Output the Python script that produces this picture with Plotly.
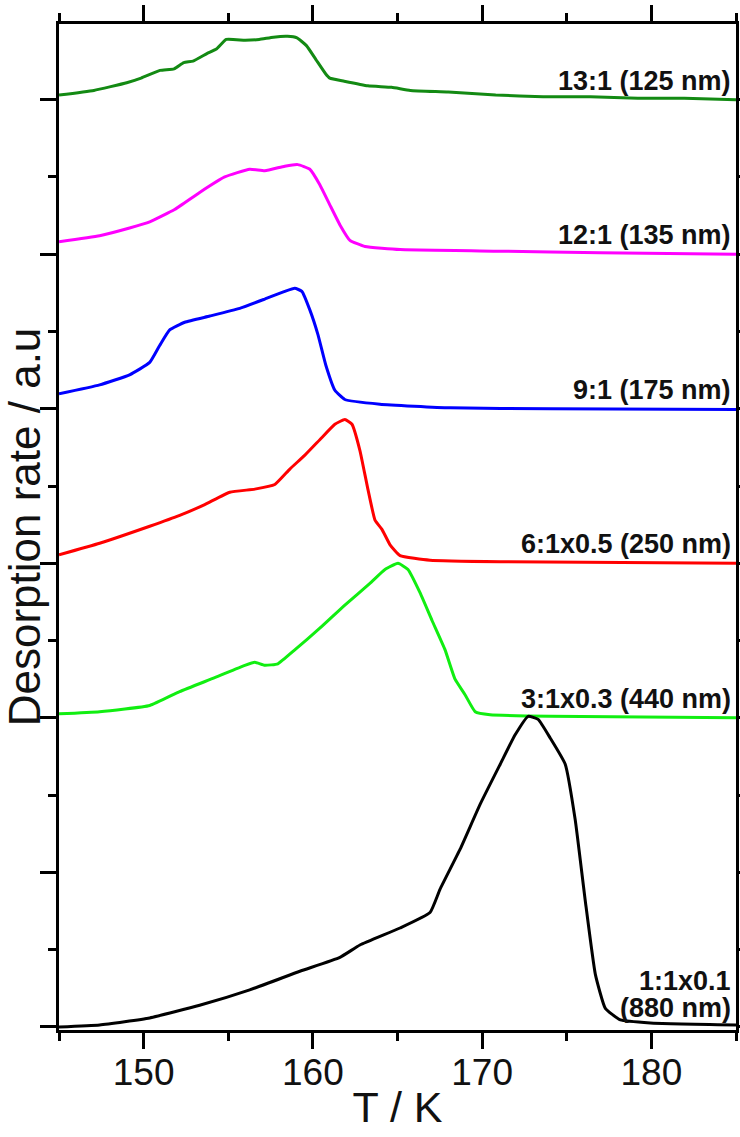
import plotly.graph_objects as go

# Temperature (K) and offset desorption rate (a.u.) for each film
T_13 = [145.0, 147.06, 149.0, 149.85, 150.97, 151.8, 152.37, 152.92, 153.76, 154.32, 154.88, 156.0,
        156.83, 157.67, 158.5, 159.06, 159.62, 160.18, 160.74, 161.0, 161.85, 163.25, 164.65, 165.76,
        168.0, 170.8, 173.6, 176.4, 179.2, 181.95, 185.0]
Y_13 = [6.03, 6.06, 6.11, 6.14, 6.19, 6.20, 6.24, 6.25, 6.30, 6.33, 6.39, 6.385,
        6.39, 6.405, 6.41, 6.40, 6.35, 6.26, 6.17, 6.14, 6.12, 6.09, 6.08, 6.06,
        6.05, 6.03, 6.02, 6.02, 6.01, 6.01, 6.0]

T_12 = [145.0, 147.4, 149.17, 150.36, 151.83, 153.31, 154.79, 156.27, 157.16, 158.34, 159.11, 159.82,
        160.41, 161.0, 161.6, 162.19, 163.08, 165.15, 171.07, 176.98, 185.0]
Y_12 = [5.081, 5.12, 5.17, 5.21, 5.29, 5.40, 5.50, 5.55, 5.54, 5.57, 5.58, 5.55,
        5.45, 5.32, 5.19, 5.09, 5.05, 5.03, 5.02, 5.01, 5.0]

T_9 = [145.0, 147.4, 149.17, 150.36, 150.95, 151.54, 152.43, 153.91, 155.68, 157.16, 158.34, 158.93,
       159.35, 159.82, 160.3, 160.77, 161.3, 161.89, 163.96, 168.11, 174.02, 185.0]
Y_9 = [4.097, 4.155, 4.22, 4.30, 4.41, 4.51, 4.56, 4.60, 4.65, 4.71, 4.76, 4.78,
       4.76, 4.64, 4.48, 4.28, 4.12, 4.06, 4.03, 4.006, 4.0, 3.995]

T_6 = [145.0, 147.4, 150.36, 152.13, 153.61, 155.09, 156.57, 157.75, 158.64, 159.53, 160.41, 161.3,
       161.89, 162.31, 162.78, 163.25, 163.67, 164.08, 164.56, 165.15, 166.92, 171.07, 185.0]
Y_6 = [3.055, 3.13, 3.24, 3.31, 3.38, 3.46, 3.48, 3.51, 3.61, 3.70, 3.80, 3.90,
       3.93, 3.90, 3.73, 3.48, 3.28, 3.22, 3.12, 3.05, 3.02, 3.01, 3.0]

T_3 = [145.0, 147.4, 150.36, 152.13, 154.2, 155.98, 156.57, 157.16, 157.93, 158.93, 160.41, 161.89,
       163.37, 164.26, 165.03, 165.62, 166.33, 167.04, 167.81, 168.4, 168.99, 169.59, 170.47, 174.02, 185.0]
Y_3 = [2.026, 2.04, 2.08, 2.17, 2.26, 2.34, 2.36, 2.34, 2.35, 2.44, 2.58, 2.73,
       2.87, 2.96, 3.00, 2.96, 2.81, 2.63, 2.44, 2.25, 2.15, 2.04, 2.02, 2.01, 2.0]

T_1 = [145.0, 147.4, 150.36, 153.31, 156.27, 159.23, 161.6, 162.78, 165.15, 166.92, 167.51, 168.7,
       169.88, 171.07, 171.95, 172.72, 173.31, 174.02, 174.91, 175.5, 176.09, 176.69, 177.28, 178.17,
       179.94, 185.0]
Y_1 = [0.0, 0.013, 0.058, 0.14, 0.24, 0.36, 0.45, 0.53, 0.64, 0.74, 0.89, 1.15,
       1.44, 1.70, 1.89, 2.01, 1.99, 1.87, 1.70, 1.34, 0.82, 0.34, 0.12, 0.045,
       0.026, 0.013]

series = [
    (T_13, Y_13, "#138a13", ["13:1 (125 nm)"], 6.0),
    (T_12, Y_12, "#ff00ff", ["12:1 (135 nm)"], 5.0),
    (T_9, Y_9, "#0000ff", ["9:1 (175 nm)"], 4.0),
    (T_6, Y_6, "#ff0000", ["6:1x0.5 (250 nm)"], 3.0),
    (T_3, Y_3, "#11ee11", ["3:1x0.3 (440 nm)"], 2.0),
    (T_1, Y_1, "#000000", ["1:1x0.1", "(880 nm)"], 0.0),
]

fig = go.Figure()
annotations = []
for t, y, c, lines, base in series:
    fig.add_trace(go.Scatter(x=t, y=y, mode="lines", line=dict(color=c, width=3, shape="spline", smoothing=0.4),
                             showlegend=False, hoverinfo="skip"))
    n = len(lines)
    for i, line_text in enumerate(lines):
        annotations.append(dict(x=0.995, xref="paper", y=base, yref="y", xanchor="right", yanchor="bottom",
                                yshift=2 + 27 * (n - 1 - i), align="right", showarrow=False,
                                text="<b>%s</b>" % line_text,
                                font=dict(family="Liberation Sans, Arial", size=27, color="#111")))

axis_common = dict(showline=True, linecolor="black", linewidth=3, mirror="ticks", ticks="outside",
                   ticklen=16, tickwidth=3, tickcolor="black", showgrid=False, zeroline=False,
                   automargin=True)

fig.update_layout(
    width=740, height=1137,
    margin=dict(l=59, r=4, t=24, b=107, autoexpand=False),
    paper_bgcolor="white", plot_bgcolor="white",
    font=dict(family="Liberation Sans, Arial", color="#111"),
    annotations=annotations,
    xaxis=dict(range=[145, 185], tickvals=[150, 160, 170, 180], ticktext=["150", "160", "170", "180"],
               minor=dict(tickvals=[145, 155, 165, 175, 185], ticklen=8, tickwidth=3, tickcolor="black", ticks="outside"),
               tickfont=dict(size=37), ticklabelstandoff=-8,
               title=dict(text="T / K", font=dict(size=43), standoff=0),
               **axis_common),
    yaxis=dict(range=[-0.02, 6.49], tickvals=[0, 1, 2, 3, 4, 5, 6], showticklabels=False,
               minor=dict(tickvals=[0.5, 1.5, 2.5, 3.5, 4.5, 5.5], ticklen=8, tickwidth=3, tickcolor="black", ticks="outside"),
               title=dict(text="Desorption rate / a.u", font=dict(size=44), standoff=4),
               **axis_common),
)

fig.write_html("out.html")
